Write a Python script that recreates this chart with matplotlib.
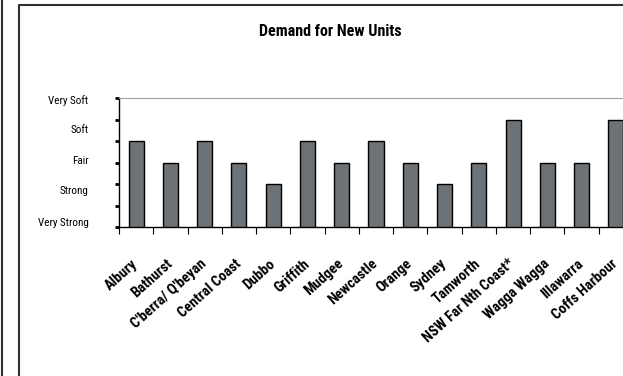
import matplotlib
matplotlib.use("Agg")
import matplotlib.pyplot as plt
from matplotlib.lines import Line2D
from matplotlib.font_manager import fontManager

# data (0 = Very Strong ... 6 = Very Soft scale)
regions = ["Albury", "Bathurst", "C'berra/ Q'beyan", "Central Coast", "Dubbo",
           "Griffith", "Mudgee", "Newcastle", "Orange", "Sydney", "Tamworth",
           "NSW Far Nth Coast*", "Wagga Wagga", "Illawarra", "Coffs Harbour"]
demand = [4, 3, 4, 3, 2, 4, 3, 4, 3, 2, 3, 5, 3, 3, 5]
level_labels = ["Very Strong", "Strong", "Fair", "Soft", "Very Soft"]
level_pos = [0.25, 1.7, 3.1, 4.55, 5.95]

# prefer a narrow face, like the original
names = {f.name for f in fontManager.ttflist}
wanted = ["Liberation Sans Narrow", "Arial Narrow", "Roboto Condensed",
          "IBM Plex Sans Condensed", "Liberation Sans"]
families = [n for n in wanted if n in names] + ["DejaVu Sans"]
plt.rcParams["font.family"] = families

fig = plt.figure(figsize=(6.23, 3.76), dpi=100)
ax = fig.add_axes([119 / 623, 1 - 227 / 376, 514 / 623, 129 / 376])

x = list(range(len(regions)))
ax.bar(x, demand, width=0.44, color="#6d7276", edgecolor="black", linewidth=1.0, zorder=3)

ax.set_xlim(-0.5, len(regions) - 0.5)
ax.set_ylim(0, 6)

# ticks at category boundaries, labels at centers
ax.set_xticks([i - 0.5 for i in range(len(regions) + 1)])
ax.set_xticklabels([])
ax.set_xticks(x, minor=True)
ax.set_xticklabels(regions, minor=True, rotation=42, ha="right", va="center",
                   rotation_mode="anchor", fontsize=10.5, fontweight="bold")
ax.tick_params(axis="x", which="major", direction="out", length=5, width=0.8)
ax.tick_params(axis="x", which="minor", length=0, pad=25)

ax.set_yticks(range(7))
ax.set_yticklabels([])
ax.set_yticks(level_pos, minor=True)
ax.set_yticklabels(level_labels, minor=True, fontsize=8)
ax.tick_params(axis="y", which="major", direction="out", length=3, width=2)
ax.tick_params(axis="y", which="minor", length=0, pad=22)

ax.spines["top"].set_color("#a0a0a0")
ax.spines["right"].set_visible(False)
ax.spines["left"].set_linewidth(1.0)
ax.spines["bottom"].set_linewidth(1.0)

fig.text(330 / 623, 1 - 31 / 376, "Demand for New Units", ha="center", va="center",
         fontsize=11.5, fontweight="bold")

# surrounding frames
fig.add_artist(Line2D([1.5 / 623, 1.5 / 623], [0, 1], color="#303030", lw=1.5))
fig.add_artist(Line2D([19 / 623, 19 / 623, 1], [0, 1 - 5 / 376, 1 - 5 / 376],
                      color="#303030", lw=1.5))

fig.savefig("out.png", dpi=100)
